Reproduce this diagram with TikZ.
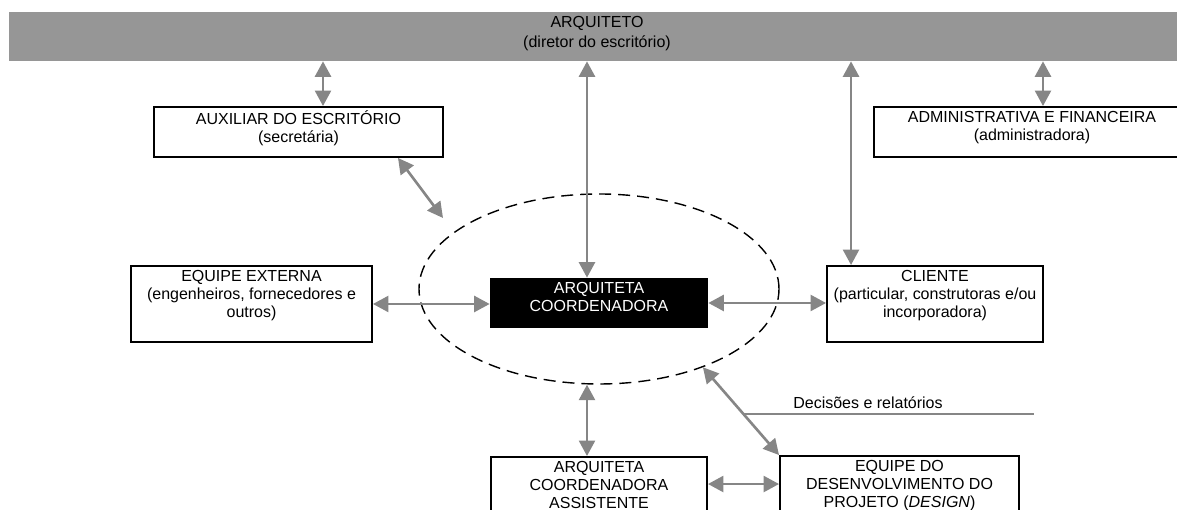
\documentclass[tikz,border=0pt]{standalone}
\usepackage{fontspec}
\setmainfont{Liberation Sans}
\usetikzlibrary{shapes.geometric,arrows.meta}
\definecolor{barra}{RGB}{150,150,150}
\definecolor{cinzaseta}{RGB}{134,134,134}

\begin{document}
\begin{tikzpicture}[font={\fontsize{9.1}{10.3}\selectfont},
  caixa/.style={draw=black, line width=1.1pt, fill=white, inner sep=0pt},
  rotulo/.style={anchor=north, align=center, inner xsep=0pt, inner ysep=0.09cm},
  setadupla/.style={draw=cinzaseta, line width=1.5pt,
    {Triangle[length=0.31cm,width=0.32cm]}-{Triangle[length=0.31cm,width=0.32cm]}}]
\useasboundingbox (0,0) rectangle (23.54,10.20);
% faixa do topo
\node[fill=barra, minimum width=23.52cm, minimum height=0.98cm, inner sep=0pt] (arq) at (11.94,9.47) {};
\node[rotulo] at (arq.north) {ARQUITETO\\[0.03cm](diretor do escritório)};
\node[caixa, minimum width=5.78cm, minimum height=1.00cm] (aux) at (5.97,7.56) {};
\node[rotulo] at (aux.north) {AUXILIAR DO ESCRITÓRIO\\(secretária)};
\node[caixa, minimum width=6.32cm, minimum height=1.00cm] (adm) at (20.64,7.56) {};
\node[rotulo] at (adm.north) {ADMINISTRATIVA E FINANCEIRA\\(administradora)};
% nucleo tracejado
\node[ellipse, draw=black, line width=0.8pt, dash pattern=on 0.24cm off 0.14cm,
  minimum width=7.2cm, minimum height=3.8cm, inner sep=0pt] (nucleo) at (11.98,4.42) {};
\node[fill=black, minimum width=4.36cm, minimum height=1.00cm, inner sep=0pt] (coord) at (11.98,4.14) {};
\node[rotulo, text=white] at (coord.north) {ARQUITETA\\COORDENADORA};
\node[caixa, minimum width=4.82cm, minimum height=1.52cm] (ext) at (5.03,4.12) {};
\node[rotulo] at (ext.north) {EQUIPE EXTERNA\\(engenheiros, fornecedores e\\outros)};
\node[caixa, minimum width=4.32cm, minimum height=1.52cm] (cli) at (18.70,4.12) {};
\node[rotulo] at (cli.north) {CLIENTE\\(particular, construtoras e/ou\\incorporadora)};
\node[caixa, minimum width=4.32cm, minimum height=1.46cm] (assist) at (11.98,0.33) {};
\node[rotulo] at (assist.north) {ARQUITETA\\COORDENADORA\\ASSISTENTE};
\node[caixa, minimum width=4.78cm, minimum height=1.48cm] (proj) at (17.99,0.34) {};
\node[rotulo] at (proj.north) {EQUIPE DO\\DESENVOLVIMENTO DO\\PROJETO (\textit{DESIGN})};
% setas
\coordinate (a1) at ([xshift=0.49cm]aux.north);
\draw[setadupla] (a1) -- (a1 |- arq.south);
\coordinate (a2) at ([xshift=0.22cm]adm.north);
\draw[setadupla] (a2) -- (a2 |- arq.south);
\coordinate (a3) at ([xshift=-0.24cm]coord.north);
\draw[setadupla] (a3 |- arq.south) -- (a3);
\coordinate (a4) at ([xshift=0.5cm]cli.north west);
\draw[setadupla] (a4 |- arq.south) -- (a4);
\draw[setadupla] (ext.east) -- (ext.east -| coord.west);
\draw[setadupla] (coord.east) -- (coord.east -| cli.west);
\coordinate (a5) at ([xshift=1.99cm]aux.south);
\coordinate (livre) at (8.86,5.84);
\draw[setadupla] (a5) -- (livre);
\coordinate (a6) at ([xshift=-0.24cm]assist.north);
\draw[setadupla] (a6 |- nucleo.south) -- (a6);
\draw[setadupla] (nucleo.-37) -- (proj.north west);
\coordinate (a7) at ([yshift=-0.56cm]assist.north east);
\draw[setadupla] (a7) -- (a7 -| proj.west);
% decisoes
\path (nucleo.-37) -- (proj.north west) coordinate[pos=0.53] (dec);
\coordinate (decfim) at (20.68,1.92);
\draw[cinzaseta, line width=0.85pt] (dec) -- (dec -| decfim);
\node[anchor=base west, inner sep=0pt] (decisoes) at (15.86,2.03) {Decisões e relatórios};
\end{tikzpicture}
\end{document}
